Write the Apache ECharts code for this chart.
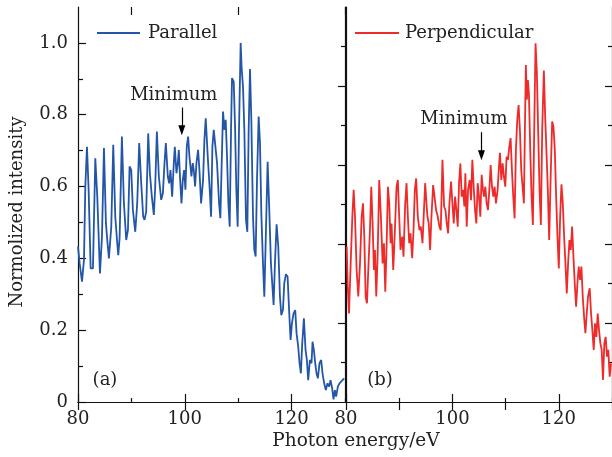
<!DOCTYPE html>
<html>
<head>
<meta charset="utf-8">
<script src="https://cdn.jsdelivr.net/npm/echarts@6/dist/echarts.min.js"></script>
<style>
html,body{margin:0;padding:0;background:#fff;}
#chart{width:612px;height:457px;}
</style>
</head>
<body>
<div id="chart"></div>
<script>
// Panel (a): Parallel
const energyA = [80.00,80.31,80.75,81.12,81.37,81.68,81.99,82.37,82.80,83.24,83.61,84.11,84.49,84.86,85.23,85.48,85.79,86.23,86.60,86.98,87.35,87.54,87.79,88.22,88.60,89.03,89.35,89.66,89.97,90.28,90.72,91.09,91.46,91.84,92.21,92.46,92.77,93.15,93.46,93.83,94.20,94.45,94.77,95.14,95.58,95.89,96.20,96.45,96.82,97.07,97.32,97.63,97.94,98.13,98.44,98.69,98.88,99.13,99.38,99.62,99.87,100.12,100.37,100.62,100.87,101.06,101.24,101.49,101.68,101.93,102.18,102.49,102.74,103.05,103.42,103.67,103.92,104.30,104.67,104.92,105.17,105.42,105.73,106.04,106.42,106.66,106.91,107.16,107.41,107.66,107.91,108.16,108.41,108.66,108.84,109.16,109.41,109.65,109.90,110.15,110.46,110.65,110.90,111.15,111.46,111.71,111.96,112.21,112.46,112.77,113.02,113.27,113.52,113.83,114.08,114.33,114.64,114.89,115.20,115.51,115.82,116.13,116.45,116.63,116.88,117.19,117.50,117.82,118.07,118.38,118.63,118.94,119.25,119.56,119.81,120.06,120.37,120.68,120.93,121.24,121.49,121.74,121.99,122.30,122.61,122.86,123.11,123.42,123.73,123.92,124.17,124.42,124.67,124.92,125.23,125.54,125.79,126.10,126.41,126.73,127.04,127.29,127.60,127.85,128.10,128.34,128.66,128.97,129.22,129.53,129.84];
const intensityA = [0.433,0.386,0.335,0.396,0.600,0.711,0.591,0.372,0.372,0.679,0.572,0.358,0.461,0.707,0.498,0.451,0.400,0.488,0.716,0.516,0.442,0.409,0.456,0.739,0.553,0.451,0.479,0.656,0.646,0.535,0.474,0.553,0.721,0.609,0.516,0.507,0.530,0.748,0.637,0.572,0.521,0.595,0.753,0.628,0.563,0.581,0.665,0.721,0.628,0.609,0.646,0.572,0.665,0.711,0.637,0.665,0.702,0.618,0.553,0.618,0.646,0.591,0.711,0.739,0.683,0.656,0.628,0.665,0.646,0.600,0.665,0.702,0.646,0.553,0.618,0.730,0.790,0.683,0.591,0.516,0.711,0.758,0.762,0.665,0.553,0.512,0.665,0.809,0.758,0.786,0.683,0.553,0.488,0.758,0.902,0.892,0.767,0.591,0.488,0.758,1.000,0.929,0.878,0.758,0.507,0.474,0.758,0.927,0.786,0.516,0.423,0.405,0.618,0.795,0.721,0.526,0.386,0.293,0.479,0.669,0.535,0.386,0.312,0.270,0.386,0.495,0.433,0.293,0.242,0.256,0.331,0.356,0.349,0.247,0.173,0.219,0.247,0.256,0.191,0.154,0.108,0.080,0.163,0.233,0.145,0.117,0.061,0.117,0.108,0.168,0.145,0.108,0.080,0.066,0.108,0.117,0.080,0.052,0.033,0.052,0.043,0.061,0.038,0.007,0.033,0.015,0.043,0.052,0.052,0.061,0.066];

// Panel (b): Perpendicular
const energyB = [80.13,80.31,80.56,80.88,81.19,81.44,81.69,82.00,82.31,82.63,82.94,83.19,83.44,83.69,83.94,84.19,84.50,84.75,85.00,85.25,85.44,85.69,85.94,86.25,86.56,86.88,87.13,87.38,87.63,87.88,88.13,88.38,88.56,88.88,89.19,89.50,89.75,90.00,90.25,90.56,90.81,91.13,91.38,91.63,91.88,92.13,92.44,92.69,92.94,93.19,93.50,93.81,94.06,94.38,94.63,94.88,95.13,95.31,95.56,95.81,96.06,96.38,96.69,96.94,97.25,97.56,97.81,98.13,98.44,98.69,98.94,99.19,99.44,99.75,100.00,100.25,100.50,100.75,101.00,101.25,101.50,101.75,102.00,102.25,102.44,102.69,102.94,103.25,103.50,103.75,104.00,104.25,104.50,104.75,105.00,105.25,105.50,105.75,105.94,106.19,106.44,106.69,106.94,107.19,107.44,107.69,107.94,108.19,108.50,108.75,108.94,109.19,109.44,109.69,109.94,110.19,110.44,110.69,110.94,111.19,111.44,111.69,111.94,112.19,112.44,112.69,112.94,113.19,113.44,113.63,113.81,114.00,114.19,114.38,114.63,114.88,115.13,115.38,115.63,115.88,116.13,116.38,116.63,116.88,117.19,117.44,117.69,117.94,118.19,118.44,118.75,119.00,119.25,119.50,119.75,120.00,120.25,120.50,120.75,121.00,121.25,121.50,121.75,122.00,122.25,122.50,122.75,123.00,123.25,123.50,123.75,124.00,124.25,124.50,124.75,125.00,125.25,125.50,125.81,126.06,126.31,126.56,126.81,127.06,127.31,127.56,127.81,128.06,128.31,128.56,128.81,129.06,129.31,129.56,129.81];
const intensityB = [0.393,0.300,0.224,0.351,0.469,0.537,0.469,0.334,0.267,0.351,0.469,0.503,0.419,0.267,0.250,0.334,0.435,0.545,0.452,0.334,0.385,0.267,0.368,0.562,0.469,0.351,0.402,0.279,0.393,0.545,0.503,0.402,0.452,0.334,0.435,0.545,0.562,0.469,0.385,0.419,0.368,0.503,0.554,0.469,0.402,0.427,0.364,0.435,0.537,0.566,0.469,0.435,0.444,0.402,0.478,0.554,0.503,0.469,0.452,0.385,0.469,0.549,0.545,0.486,0.469,0.444,0.435,0.613,0.495,0.486,0.452,0.427,0.503,0.558,0.503,0.452,0.520,0.486,0.444,0.554,0.604,0.520,0.537,0.495,0.579,0.444,0.537,0.562,0.511,0.613,0.545,0.486,0.452,0.554,0.520,0.469,0.575,0.537,0.520,0.545,0.503,0.486,0.537,0.600,0.545,0.520,0.545,0.503,0.537,0.596,0.631,0.562,0.604,0.570,0.545,0.621,0.613,0.646,0.668,0.587,0.520,0.465,0.638,0.714,0.752,0.689,0.587,0.545,0.503,0.689,0.853,0.765,0.815,0.781,0.638,0.520,0.448,0.689,0.908,0.832,0.680,0.537,0.448,0.689,0.839,0.722,0.630,0.537,0.410,0.554,0.710,0.697,0.638,0.520,0.419,0.338,0.469,0.551,0.503,0.419,0.351,0.275,0.351,0.410,0.385,0.444,0.368,0.300,0.241,0.300,0.343,0.309,0.343,0.267,0.216,0.174,0.224,0.267,0.288,0.224,0.182,0.132,0.199,0.165,0.224,0.182,0.149,0.132,0.056,0.149,0.165,0.115,0.132,0.064,0.098];

// Tick values / labels
const xMajorTicks = [80, 100, 120];
const xMinorTicks = [90, 110, 130];
const yMajorTicksA = [0, 0.2, 0.4, 0.6, 0.8, 1.0];
const yMinorTicksA = [0.1, 0.3, 0.5, 0.7, 0.9];
const yMajorTicksB = [0.2, 0.4, 0.6, 0.8];
const yMinorTicksB = [0.1, 0.3, 0.5, 0.7, 0.9];

const FONT = 'DejaVu Serif';
const TXT = '#222';
const AX = '#111';

const chart = echarts.init(document.getElementById('chart'), null, {renderer: 'canvas'});

function xAx(grid, pos, ticks, len, showLine, labels) {
  return {
    type: 'value', gridIndex: grid, position: pos, min: 80, max: 130,
    axisLine: {show: showLine, lineStyle: {color: AX, width: 1.2}},
    axisTick: {show: true, inside: true, length: len, customValues: ticks, lineStyle: {color: AX, width: 1.2}},
    axisLabel: labels ? {show: true, customValues: ticks, margin: 8, fontFamily: FONT, fontSize: 18, color: TXT} : {show: false},
    splitLine: {show: false}
  };
}
function yAx(grid, pos, max, ticks, len, inside, showLine, labels) {
  return {
    type: 'value', gridIndex: grid, position: pos, min: 0, max: max,
    axisLine: {show: showLine, lineStyle: {color: AX, width: 1.2}},
    axisTick: {show: ticks.length > 0, inside: inside, length: len, customValues: ticks, lineStyle: {color: AX, width: 1.2}},
    axisLabel: labels ? {show: true, customValues: ticks, margin: 10, fontFamily: FONT, fontSize: 18, color: TXT,
      formatter: v => (v === 0 ? '0' : v.toFixed(1))} : {show: false},
    splitLine: {show: false}
  };
}

function arrowLine(x, y0, y1) {
  return {
    silent: true, symbol: ['none', 'none'],
    label: {show: false}, emphasis: {disabled: true},
    lineStyle: {color: '#000', width: 1.2, type: 'solid'},
    data: [[{coord: [x, y0]}, {coord: [x, y1]}]]
  };
}
function annotPoints(tx, ty, ax, ay) {
  return {
    silent: true,
    data: [
      {coord: [tx, ty], symbol: 'circle', symbolSize: 1, itemStyle: {color: 'rgba(0,0,0,0)'},
       label: {show: true, position: 'inside', formatter: 'Minimum', fontFamily: FONT, fontSize: 18, color: TXT}},
      {coord: [ax, ay], symbol: 'triangle', symbolSize: [7, 10], symbolRotate: 180, symbolOffset: [0, -5],
       itemStyle: {color: '#000'}, label: {show: false}}
    ]
  };
}

const option = {
  animation: false,
  backgroundColor: '#fff',
  grid: [
    {left: 78, top: 7, width: 267, height: 395},
    {left: 346, top: 7, width: 266, height: 395}
  ],
  xAxis: [
    xAx(0, 'bottom', xMajorTicks, 8, true, true),   // 0
    xAx(0, 'bottom', xMinorTicks, 4, false, false), // 1
    xAx(0, 'top', xMajorTicks, 8, true, false),     // 2
    xAx(0, 'top', xMinorTicks, 8, false, false),    // 3
    xAx(1, 'bottom', xMajorTicks, 8, true, true),   // 4
    xAx(1, 'bottom', xMinorTicks, 4, false, false), // 5
    xAx(1, 'top', xMajorTicks, 8, true, false),     // 6
    xAx(1, 'top', xMinorTicks, 8, false, false)     // 7
  ],
  yAxis: [
    yAx(0, 'left', 1.1, yMajorTicksA, 8, true, true, true),    // 0
    yAx(0, 'left', 1.1, yMinorTicksA, 5, true, false, false),  // 1
    yAx(0, 'right', 1.1, [], 0, true, true, false),            // 2
    yAx(1, 'left', 1.0, yMajorTicksB, 8, false, true, false),  // 3
    yAx(1, 'left', 1.0, yMinorTicksB, 5, false, false, false), // 4
    yAx(1, 'right', 1.0, yMajorTicksB, 7, true, true, false),  // 5
    yAx(1, 'right', 1.0, yMinorTicksB, 4, true, false, false)  // 6
  ],
  legend: [
    {data: [{name: 'Parallel', icon: 'rect'}], left: 97, top: 24, padding: 0, itemWidth: 43, itemHeight: 2, itemGap: 0,
     textStyle: {fontFamily: FONT, fontSize: 18, color: TXT, padding: [0, 0, 0, 3]}},
    {data: [{name: 'Perpendicular', icon: 'rect'}], left: 355, top: 24, padding: 0, itemWidth: 44, itemHeight: 2, itemGap: 0,
     textStyle: {fontFamily: FONT, fontSize: 18, color: TXT, padding: [0, 0, 0, 1]}}
  ],
  series: [
    {
      name: 'Parallel', type: 'line', xAxisIndex: 0, yAxisIndex: 0,
      data: energyA.map((x, i) => [x, intensityA[i]]),
      symbol: 'none', showSymbol: false, color: '#2456a8',
      lineStyle: {width: 1.8, color: '#2456a8'},
      markLine: arrowLine(99.44, 0.82, 0.76),
      markPoint: annotPoints(97.94, 0.855, 99.44, 0.743)
    },
    {
      name: 'Perpendicular', type: 'line', xAxisIndex: 4, yAxisIndex: 3,
      data: energyB.map((x, i) => [x, intensityB[i]]),
      symbol: 'none', showSymbol: false, color: '#ee2b2b',
      lineStyle: {width: 1.8, color: '#ee2b2b'},
      markLine: arrowLine(105.46, 0.683, 0.63),
      markPoint: annotPoints(102.18, 0.716, 105.46, 0.612)
    }
  ],
  graphic: [
    {type: 'text', x: 17, y: 212, rotation: Math.PI / 2,
     style: {text: 'Normolized intensity', fontFamily: FONT, fontSize: 18, fill: TXT, align: 'center', verticalAlign: 'middle'}},
    {type: 'text', x: 356, y: 441,
     style: {text: 'Photon energy/eV', fontFamily: FONT, fontSize: 18.5, fill: TXT, align: 'center', verticalAlign: 'middle'}},
    {type: 'text', x: 105, y: 380,
     style: {text: '(a)', fontFamily: FONT, fontSize: 18, fill: TXT, align: 'center', verticalAlign: 'middle'}},
    {type: 'text', x: 380, y: 380,
     style: {text: '(b)', fontFamily: FONT, fontSize: 18, fill: TXT, align: 'center', verticalAlign: 'middle'}}
  ]
};
chart.setOption(option);
</script>
</body>
</html>
